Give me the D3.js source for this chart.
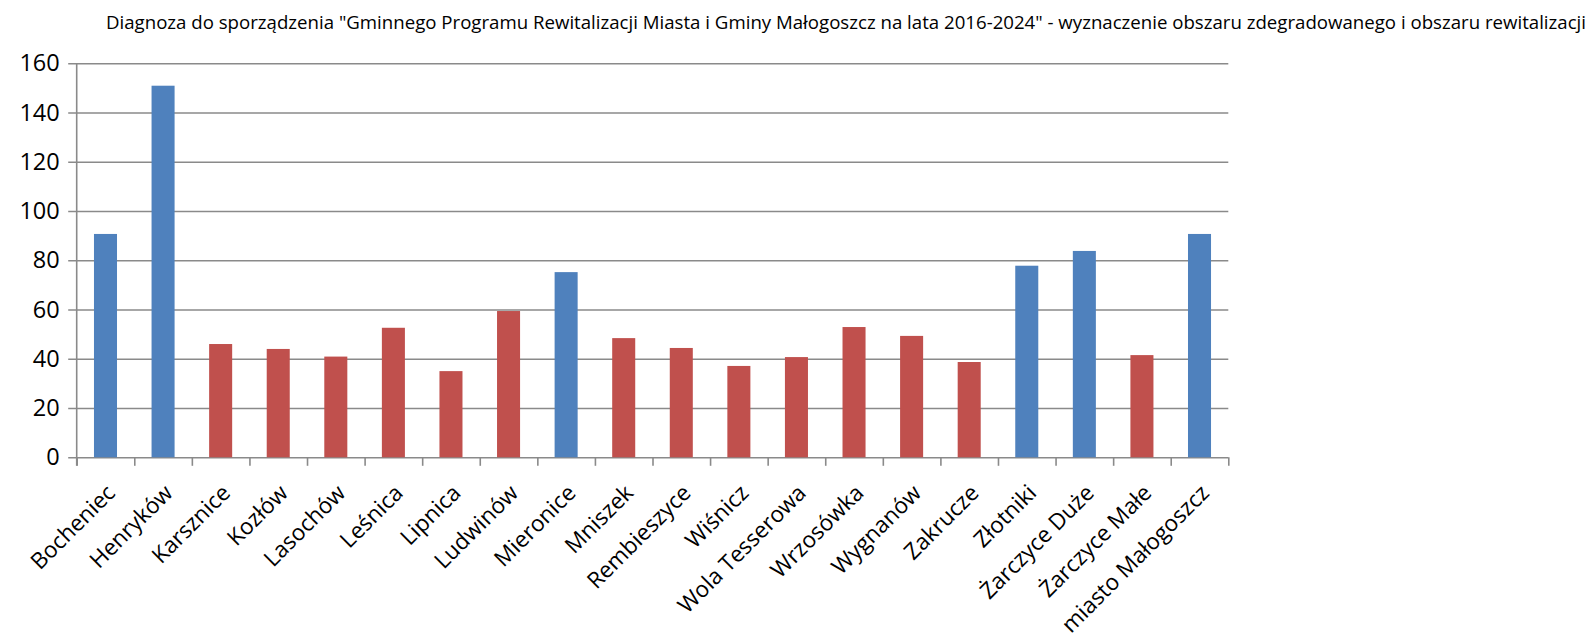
<!DOCTYPE html>
<html lang="pl">
<head>
<meta charset="utf-8">
<script src="https://cdn.jsdelivr.net/npm/d3@7"></script>
<style>
  html, body { margin: 0; padding: 0; background: #ffffff; }
  svg { display: block; font-family: "Open Sans", "DejaVu Sans", sans-serif; }
</style>
</head>
<body>
<svg id="chart" width="1589" height="634"></svg>
<script>
// Sołectwa gminy Małogoszcz and the town itself
const categories = [
  "Bocheniec", "Henryków", "Karsznice", "Kozłów", "Lasochów", "Leśnica",
  "Lipnica", "Ludwinów", "Mieronice", "Mniszek", "Rembieszyce", "Wiśnicz",
  "Wola Tesserowa", "Wrzosówka", "Wygnanów", "Zakrucze", "Złotniki",
  "Żarczyce Duże", "Żarczyce Małe", "miasto Małogoszcz"
];

// Summary indicator value per unit
const values = [
  90.7, 150.9, 46.0, 44.0, 40.9, 52.6,
  35.0, 59.4, 75.2, 48.4, 44.4, 37.1,
  40.7, 52.9, 49.3, 38.7, 77.8,
  83.8, 41.5, 90.7
];

// Units flagged as degraded (drawn in blue), the rest in red
const degraded = [
  true, true, false, false, false, false,
  false, false, true, false, false, false,
  false, false, false, false, true,
  true, false, true
];

const yTicks = [0, 20, 40, 60, 80, 100, 120, 140, 160];

const titleText = 'Diagnoza do sporządzenia "Gminnego Programu Rewitalizacji Miasta i Gminy Małogoszcz na lata 2016-2024" - wyznaczenie obszaru zdegradowanego i obszaru rewitalizacji';

const colorDegraded = "#4f81bd";
const colorOther = "#c0504d";
const gridColor = "#8a8a8a";

const svg = d3.select("#chart");
const plot = { left: 76.7, right: 1228.3, top: 63.3, bottom: 457.3 };

const x = d3.scaleBand()
  .domain(categories)
  .range([plot.left, plot.right])
  .paddingInner(0.6)
  .paddingOuter(0.3);

const y = d3.scaleLinear()
  .domain([0, 160])
  .range([plot.bottom, plot.top]);

// Title
svg.append("text")
  .attr("x", 106)
  .attr("y", 28.5)
  .attr("font-size", 18)
  .attr("fill", "#000")
  .attr("textLength", 1480)
  .attr("lengthAdjust", "spacingAndGlyphs")
  .text(titleText);

// Horizontal gridlines with outer tick marks and value labels
const yAxis = d3.axisLeft(y)
  .tickValues(yTicks)
  .tickSize(-(plot.right - plot.left))
  .tickSizeOuter(0)
  .tickPadding(17)
  .tickFormat(d3.format("d"));

const gy = svg.append("g")
  .attr("transform", `translate(${plot.left},0)`)
  .call(yAxis);
gy.select(".domain").remove();
gy.selectAll(".tick line")
  .attr("x1", -8.5)
  .attr("stroke", gridColor)
  .attr("stroke-width", 1.6);
gy.selectAll(".tick text")
  .attr("font-size", 23.5)
  .attr("font-family", "'Open Sans', sans-serif")
  .attr("fill", "#000");

// Bars
svg.append("g")
  .selectAll("rect")
  .data(categories)
  .join("rect")
  .attr("x", d => x(d))
  .attr("width", x.bandwidth())
  .attr("y", (d, i) => y(values[i]))
  .attr("height", (d, i) => y(0) - y(values[i]))
  .attr("fill", (d, i) => degraded[i] ? colorDegraded : colorOther);

// Vertical axis line
svg.append("line")
  .attr("x1", plot.left).attr("x2", plot.left)
  .attr("y1", plot.top).attr("y2", plot.bottom + 8.5)
  .attr("stroke", gridColor)
  .attr("stroke-width", 1.6);

// Category boundary ticks on the horizontal axis
const xEdges = d3.scaleLinear()
  .domain([0, categories.length])
  .range([plot.left, plot.right]);
const gx = svg.append("g")
  .attr("transform", `translate(0,${plot.bottom})`)
  .call(d3.axisBottom(xEdges)
    .tickValues(d3.range(categories.length + 1))
    .tickSize(8.5)
    .tickSizeOuter(0)
    .tickFormat(""));
gx.select(".domain").remove();
gx.selectAll(".tick line")
  .attr("stroke", gridColor)
  .attr("stroke-width", 1.6);

// Rotated category labels
svg.append("g")
  .selectAll("text")
  .data(categories)
  .join("text")
  .attr("transform", d => `translate(${x(d) + x.bandwidth() / 2 + 11},${plot.bottom + 37}) rotate(-45)`)
  .attr("text-anchor", "end")
  .attr("font-size", 22.5)
  .attr("fill", "#000")
  .text(d => d);
</script>
</body>
</html>
